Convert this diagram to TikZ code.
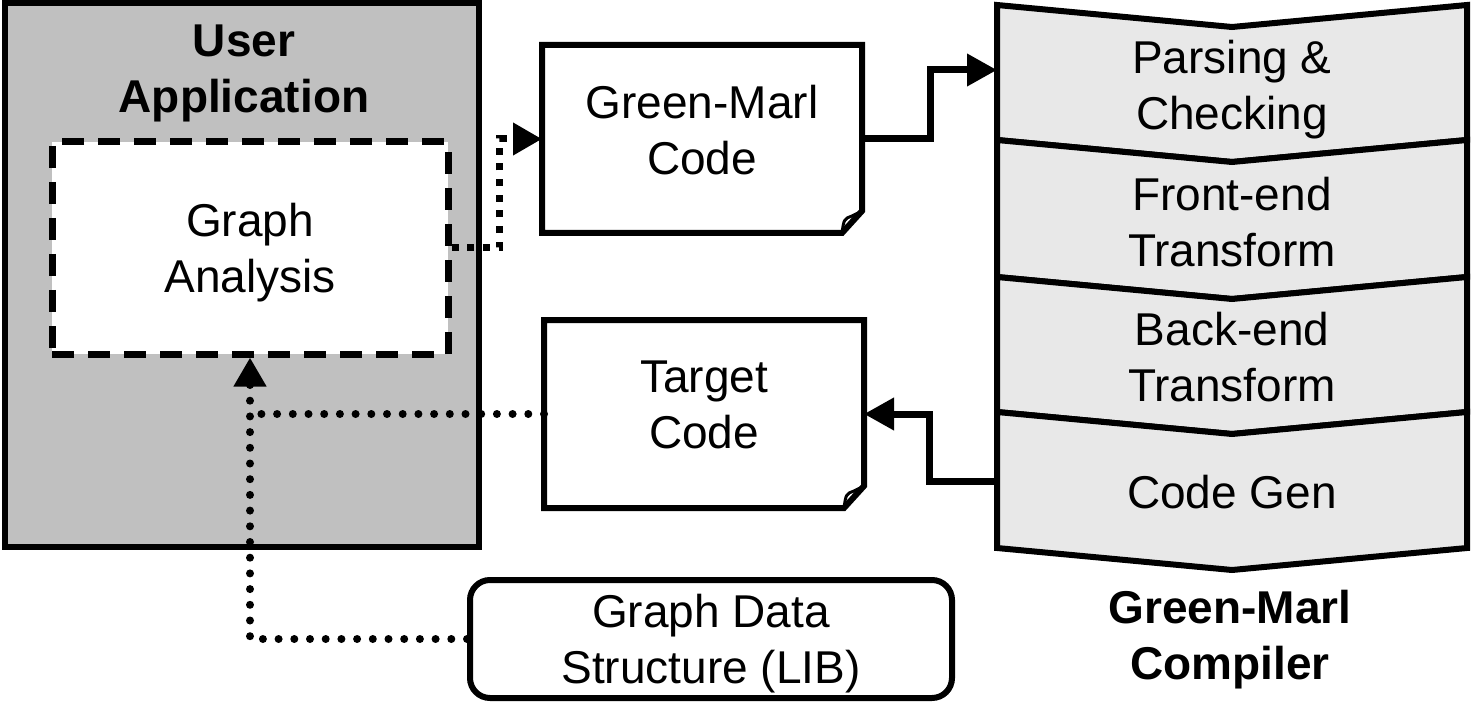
\documentclass[tikz,border=0pt]{standalone}
\usepackage{fontspec}
\setmainfont{Liberation Sans}
\usetikzlibrary{arrows.meta}

\definecolor{appGray}{RGB}{192,192,192}
\definecolor{stageGray}{RGB}{232,232,232}

\tikzset{
  txt/.style = {align=center, font=\fontsize{46}{56}\selectfont, inner sep=0pt, text depth=0pt},
  title/.style = {txt, font=\fontsize{46}{56}\selectfont\bfseries},
  box/.style = {txt, line width=6pt},
  doc/.style = {box, minimum width=314pt, minimum height=182pt, text depth=18pt},
  stage/.style = {line width=6pt, fill=stageGray},
  dotline/.style = {line width=8pt, line cap=round, dash pattern=on 0pt off 15.7pt},
  sqdotline/.style = {line width=7pt, dash pattern=on 7pt off 8.7pt},
  flow/.style = {line width=7pt, -{Triangle[length=30pt,width=31pt]}},
  dottip/.style = {-{Triangle[length=29pt,width=31pt]}},
}

\begin{document}
\begin{tikzpicture}[x=1pt, y=-1pt]
  \useasboundingbox (0,0) rectangle (1472,703);

  % user side
  \node[box, draw, fill=appGray, minimum width=474pt, minimum height=544pt] (ua) at (242,275) {};
  \node[title] (uatitle) at (244,69) {User\\Application};
  \node[box, draw, fill=white, line width=7pt, dash pattern=on 22pt off 14pt,
        minimum width=396pt, minimum height=212pt] (ga) at (250,248) {Graph\\Analysis};

  % source and target files
  \node[doc] (gm) at (702,139) {Green-Marl\\Code};
  \node[doc] (tc) at (704,414) {Target\\Code};
  \foreach \d in {gm,tc}{
    \draw[line width=6pt] (\d.north west) -- (\d.north east) -- ([yshift=22pt]\d.south east)
      -- ([xshift=-20pt]\d.south east) -- (\d.south west) -- cycle;
    \draw[line width=3pt] ([xshift=-20pt]\d.south east) .. controls ([xshift=-18pt,yshift=14pt]\d.south east)
      .. ([xshift=-10pt,yshift=17pt]\d.south east) -- ([yshift=22pt]\d.south east);
  }

  \node[box, draw, rounded corners=20pt, minimum width=482pt, minimum height=118pt] (gds) at (711,639) {Graph Data\\Structure (LIB)};

  % compiler stages
  \foreach \t/\b in {5/140, 140/277, 277/412, 412/548}
    \draw[stage] (997,\t) -- (1232,\t+22) -- (1467,\t) -- (1467,\b) -- (1232,\b+22) -- (997,\b) -- cycle;
  \node[txt] (parse) at (1232,85) {Parsing \&\\Checking};
  \node[txt] (front) at (1232,222) {Front-end\\Transform};
  \node[txt] (back) at (1232,357) {Back-end\\Transform};
  \node[txt] (gen) at (1232,492) {Code Gen};
  \node[title] (complabel) at (1230,635) {Green-Marl\\Compiler};

  \coordinate (cin) at (997,70);
  \coordinate (cout) at (997,481);

  % connectors
  \draw[sqdotline, dottip] (ga.east) -- ++(48,0) |- (gm.west);
  \draw[flow] (gm.east) -- ++(68,0) |- (cin);
  \draw[flow] (cout) -- ++(-68,0) |- (tc.east);
  \draw[dotline] (tc.west) -- (ga.south |- tc.west);
  \draw[dotline, dottip] (gds.west) -| (ga.south);
\end{tikzpicture}
\end{document}
